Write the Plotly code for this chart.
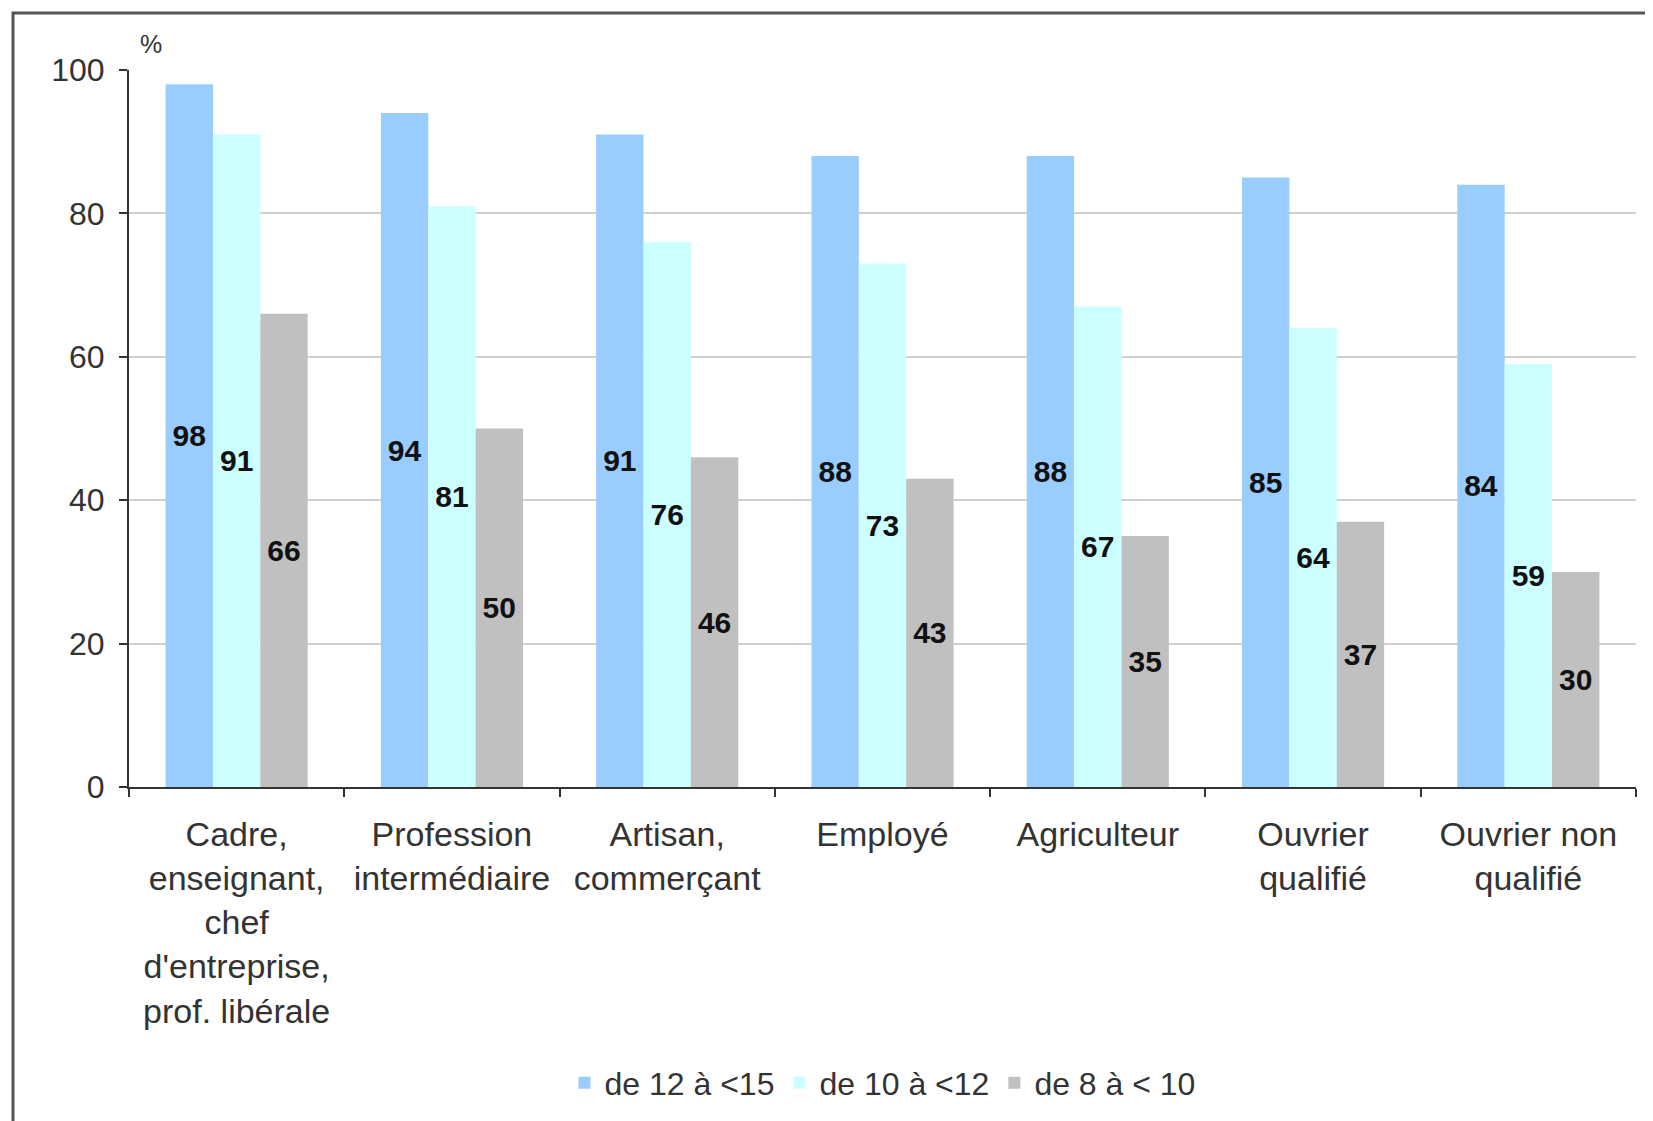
import plotly.graph_objects as go

categories = [
    "Cadre,<br>enseignant,<br>chef<br>d'entreprise,<br>prof. libérale",
    "Profession<br>intermédiaire",
    "Artisan,<br>commerçant",
    "Employé",
    "Agriculteur",
    "Ouvrier<br>qualifié",
    "Ouvrier non<br>qualifié",
]
series_names = ["de 12 à <15", "de 10 à <12", "de 8 à < 10"]
values_12_15 = [98, 94, 91, 88, 88, 85, 84]
values_10_12 = [91, 81, 76, 73, 67, 64, 59]
values_8_10 = [66, 50, 46, 43, 35, 37, 30]
y_ticks = [0, 20, 40, 60, 80, 100]

colors = ["#99CCFF", "#CCFFFF", "#C0C0C0"]
FONT = "Liberation Sans, Arial, sans-serif"

# page body has an 8px margin, so the figure is slightly smaller than the window
W, H = 1645, 1113
L, R, T, B = 121, 17, 62, 333
pw, ph = W - L - R, H - T - B

fig = go.Figure()
for name, vals, col in zip(series_names, [values_12_15, values_10_12, values_8_10], colors):
    fig.add_trace(go.Bar(
        x=categories, y=vals, name=name,
        marker=dict(color=col, line=dict(width=0)),
        text=vals, texttemplate="%{text}",
        textposition="inside", insidetextanchor="middle",
        textangle=0,
        textfont=dict(family=FONT, size=30, color="#111111", weight="bold"),
    ))


def px_to_paper_x(px):
    return (px - L) / pw


def px_to_paper_y(py):
    return (H - B - py) / ph


# outer frame
fig.add_shape(type="rect", xref="paper", yref="paper",
              x0=px_to_paper_x(5), x1=px_to_paper_x(1641),
              y0=px_to_paper_y(1125), y1=px_to_paper_y(5),
              line=dict(color="#555555", width=3), fillcolor="rgba(0,0,0,0)",
              layer="below")

fig.add_annotation(text="%", xref="paper", yref="paper",
                   x=px_to_paper_x(130), y=px_to_paper_y(20),
                   showarrow=False, font=dict(family=FONT, size=25, color="#333333"))

fig.update_layout(
    width=W, height=H,
    margin=dict(l=L, r=R, t=T, b=B),
    paper_bgcolor="white", plot_bgcolor="white",
    barmode="group", bargap=0.34, bargroupgap=0,
    font=dict(family=FONT, color="#333333"),
    showlegend=True,
    legend=dict(orientation="h", x=0.5, xanchor="center",
                y=px_to_paper_y(1075), yanchor="middle",
                font=dict(family=FONT, size=32, color="#333333"),
                itemwidth=30, bgcolor="rgba(0,0,0,0)"),
)
fig.update_xaxes(
    showline=True, linecolor="#333333", linewidth=2,
    ticks="outside", tickson="boundaries", ticklen=8, tickwidth=2, tickcolor="#333333",
    tickfont=dict(family=FONT, size=34, color="#333333"),
    ticklabelstandoff=16,
    showgrid=False,
)
fig.update_yaxes(
    range=[0, 100], tickvals=y_ticks,
    showline=True, linecolor="#333333", linewidth=2,
    ticks="outside", ticklen=8, tickwidth=2, tickcolor="#333333",
    tickfont=dict(family=FONT, size=32, color="#333333"),
    ticklabelstandoff=8,
    showgrid=True, gridcolor="#D0D0D0", gridwidth=2,
    zeroline=False,
)

fig.write_html("out.html")
